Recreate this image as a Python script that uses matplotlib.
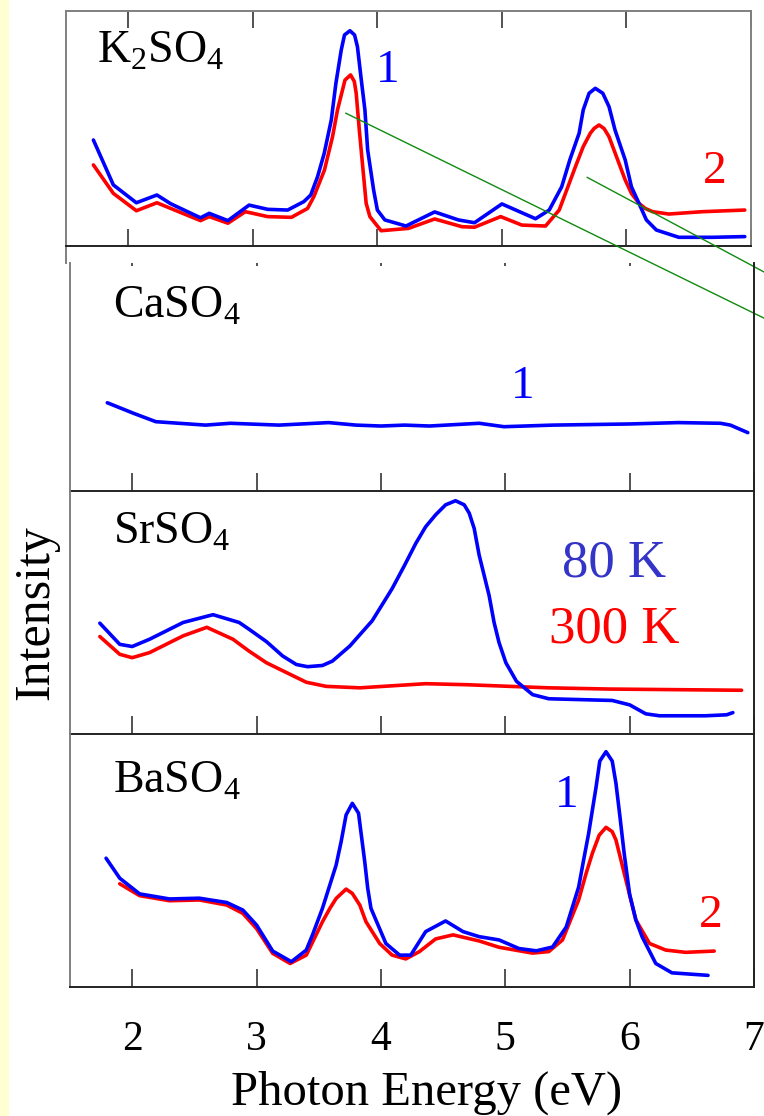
import matplotlib
matplotlib.use('Agg')
import matplotlib.pyplot as plt
from matplotlib.patches import Rectangle

plt.rcParams['font.family'] = ['Liberation Serif', 'DejaVu Serif']
plt.rcParams['mathtext.fontset'] = 'custom'
plt.rcParams['mathtext.rm'] = 'Liberation Serif'

BLUE = '#0000ff'
RED = '#ff0000'

# K2SO4: curve 1 (blue, 80 K) and curve 2 (red, 300 K)
k_e_blue = [1.72, 1.88, 2.065, 2.23, 2.34, 2.58, 2.65, 2.80, 2.97, 3.12, 3.28, 3.41,
            3.465, 3.52, 3.573, 3.63, 3.667, 3.71, 3.736, 3.78, 3.817, 3.84, 3.868, 3.90,
            3.922, 3.97, 4.0, 4.06, 4.23, 4.46, 4.65, 4.78, 5.00, 5.27, 5.38, 5.48,
            5.545, 5.62, 5.653, 5.70, 5.75, 5.81, 5.86, 5.908, 5.99, 6.04, 6.10, 6.16,
            6.24, 6.42, 6.69, 6.95]
k_i_blue = [0.451, 0.26, 0.184, 0.217, 0.18, 0.12, 0.139, 0.108, 0.174, 0.156, 0.153, 0.189,
            0.217, 0.295, 0.394, 0.536, 0.692, 0.834, 0.898, 0.916, 0.898, 0.848, 0.72, 0.579,
            0.409, 0.238, 0.153, 0.111, 0.085, 0.145, 0.111, 0.099, 0.179, 0.116, 0.153, 0.252,
            0.366, 0.48, 0.579, 0.65, 0.671, 0.65, 0.593, 0.494, 0.366, 0.252, 0.182, 0.111,
            0.068, 0.037, 0.037, 0.04]
k_e_red = [1.72, 1.88, 2.065, 2.23, 2.34, 2.58, 2.65, 2.80, 2.94, 3.12, 3.31, 3.44,
           3.49, 3.575, 3.64, 3.68, 3.74, 3.785, 3.815, 3.83, 3.855, 3.885, 3.91, 3.94,
           4.03, 4.25, 4.46, 4.68, 4.78, 4.99, 5.16, 5.35, 5.46, 5.53, 5.59, 5.653,
           5.71, 5.74, 5.78, 5.82, 5.86, 5.92, 5.99, 6.04, 6.10, 6.15, 6.21, 6.34,
           6.61, 6.95]
k_i_red = [0.345, 0.224, 0.150, 0.184, 0.16, 0.108, 0.125, 0.097, 0.146, 0.125, 0.122, 0.16,
           0.21, 0.323, 0.465, 0.579, 0.706, 0.728, 0.70, 0.65, 0.494, 0.323, 0.182, 0.125,
           0.065, 0.075, 0.115, 0.082, 0.08, 0.125, 0.089, 0.085, 0.153, 0.252, 0.337, 0.423,
           0.48, 0.50, 0.515, 0.50, 0.465, 0.38, 0.281, 0.224, 0.182, 0.16, 0.146, 0.136,
           0.146, 0.153]

# CaSO4: curve 1 only
ca_e = [1.80, 2.01, 2.19, 2.59, 2.79, 3.18, 3.58, 3.80, 4.00, 4.19, 4.39, 4.79,
        4.99, 5.38, 6.00, 6.39, 6.73, 6.81, 6.95]
ca_i = [0.387, 0.341, 0.304, 0.289, 0.297, 0.289, 0.30, 0.289, 0.285, 0.289, 0.285, 0.297,
        0.282, 0.289, 0.294, 0.30, 0.297, 0.289, 0.256]

# SrSO4: 80 K (blue) and 300 K (red)
sr_e_blue = [1.74, 1.90, 2.00, 2.14, 2.41, 2.65, 2.86, 2.94, 3.08, 3.21, 3.32, 3.41,
             3.53, 3.61, 3.75, 3.93, 4.09, 4.19, 4.28, 4.36, 4.44, 4.52, 4.60, 4.67,
             4.71, 4.75, 4.79, 4.83, 4.87, 4.91, 4.95, 5.005, 5.09, 5.22, 5.35, 5.86,
             6.00, 6.13, 6.24, 6.61, 6.78, 6.83]
sr_i_blue = [0.456, 0.369, 0.360, 0.39, 0.459, 0.491, 0.459, 0.431, 0.38, 0.321, 0.286, 0.277,
             0.282, 0.30, 0.362, 0.466, 0.598, 0.694, 0.784, 0.853, 0.902, 0.943, 0.96, 0.943,
             0.909, 0.846, 0.736, 0.653, 0.57, 0.459, 0.376, 0.293, 0.217, 0.162, 0.145, 0.138,
             0.12, 0.083, 0.075, 0.075, 0.079, 0.088]
sr_e_red = [1.74, 1.90, 2.00, 2.14, 2.41, 2.60, 2.81, 2.94, 3.08, 3.40, 3.56, 3.83,
            4.36, 4.68, 5.35, 5.83, 6.90]
sr_i_red = [0.401, 0.328, 0.314, 0.335, 0.404, 0.439, 0.39, 0.341, 0.293, 0.213, 0.196, 0.19,
            0.207, 0.203, 0.19, 0.185, 0.18]

# BaSO4: curve 1 (blue) and curve 2 (red)
ba_e_blue = [1.79, 1.90, 2.06, 2.30, 2.54, 2.76, 2.89, 3.00, 3.13, 3.28, 3.40, 3.45,
             3.53, 3.64, 3.68, 3.72, 3.77, 3.82, 3.87, 3.894, 3.92, 4.04, 4.15, 4.24,
             4.36, 4.52, 4.66, 4.79, 4.95, 5.11, 5.25, 5.38, 5.49, 5.59, 5.63, 5.67,
             5.73, 5.76, 5.81, 5.86, 5.89, 5.92, 5.956, 6.00, 6.05, 6.10, 6.21, 6.34,
             6.63]
ba_i_blue = [0.509, 0.430, 0.368, 0.348, 0.351, 0.334, 0.304, 0.245, 0.142, 0.100, 0.146, 0.206,
             0.311, 0.482, 0.574, 0.680, 0.726, 0.687, 0.495, 0.39, 0.311, 0.172, 0.126, 0.126,
             0.219, 0.261, 0.219, 0.199, 0.186, 0.152, 0.143, 0.158, 0.237, 0.395, 0.502, 0.606,
             0.790, 0.893, 0.930, 0.893, 0.805, 0.682, 0.528, 0.366, 0.265, 0.199, 0.093, 0.056,
             0.046]
ba_e_red = [1.90, 2.06, 2.30, 2.54, 2.76, 2.89, 3.00, 3.13, 3.27, 3.40, 3.53, 3.59,
            3.64, 3.72, 3.77, 3.83, 3.88, 3.99, 4.09, 4.20, 4.31, 4.44, 4.58, 4.79,
            4.95, 5.22, 5.35, 5.46, 5.59, 5.65, 5.70, 5.755, 5.81, 5.86, 5.89, 5.97,
            6.05, 6.16, 6.29, 6.45, 6.68]
ba_i_red = [0.408, 0.361, 0.341, 0.344, 0.324, 0.291, 0.231, 0.133, 0.093, 0.126, 0.258, 0.311,
            0.350, 0.387, 0.370, 0.324, 0.258, 0.172, 0.126, 0.111, 0.140, 0.190, 0.206, 0.182,
            0.157, 0.134, 0.140, 0.186, 0.344, 0.449, 0.528, 0.60, 0.631, 0.614, 0.581, 0.423,
            0.265, 0.172, 0.146, 0.137, 0.142]

# green guide lines drawn from the K2SO4 peaks (in K2SO4 axes units)
guide1_e = [3.747, 7.12]
guide1_i = [0.565, -0.311]
guide2_e = [5.685, 7.12]
guide2_i = [0.292, -0.115]

xticks = [2, 3, 4, 5, 6, 7]
W, H = 764, 1116

fig = plt.figure(figsize=(7.64, 11.16), dpi=100)
fig.add_artist(Rectangle((0, 0), 9 / W, 1, transform=fig.transFigure,
                         facecolor='#ffffd2', edgecolor='none'))


def make_ax(left, top, right, bottom):
    return fig.add_axes([left / W, 1 - bottom / H, (right - left) / W, (bottom - top) / H],
                        facecolor='none')


ax1 = make_ax(66, 11, 751, 246)
ax2 = make_ax(70, 263, 754, 491)
ax3 = make_ax(70, 491, 754, 734)
ax4 = make_ax(70, 734, 754, 987)

grey = '#808080'
for ax in (ax1, ax2, ax3, ax4):
    ax.set_xlim(1.5, 7.0)
    ax.set_ylim(0, 1)
    ax.set_yticks([])
    ax.set_xticks(xticks)
    for s in ax.spines.values():
        s.set_linewidth(1.4)
    ax.spines['left'].set_color(grey)
    ax.spines['bottom'].set_color('#222222')

ax1.spines['top'].set_color(grey)
ax1.spines['right'].set_color(grey)
ax1.spines['left'].set_bounds(-0.072, 1)
ax1.tick_params(axis='x', direction='in', top=True, length=12, width=1.3,
                color='#444444', labelbottom=False)
for ax in (ax2, ax3, ax4):
    ax.spines['top'].set_visible(False)
    ax.spines['right'].set_color('#222222')
    ax.tick_params(axis='x', direction='in', length=13, width=1.3, color='#444444',
                   labelbottom=False)
ax2.xaxis.set_tick_params(which='major', top=True)
for t in ax2.xaxis.get_major_ticks():
    t.tick2line.set_markersize(2)
ax4.tick_params(axis='x', labelbottom=True, labelsize=30, pad=24)

lw = 2.6
kw = dict(lw=lw, solid_joinstyle='round', solid_capstyle='round')
ax1.plot(k_e_red, k_i_red, color=RED, **kw)
ax1.plot(k_e_blue, k_i_blue, color=BLUE, **kw)
ax2.plot(ca_e, ca_i, color=BLUE, **kw)
ax3.plot(sr_e_red, sr_i_red, color=RED, **kw)
ax3.plot(sr_e_blue, sr_i_blue, color=BLUE, **kw)
ax4.plot(ba_e_red, ba_i_red, color=RED, **kw)
ax4.plot(ba_e_blue, ba_i_blue, color=BLUE, **kw)

ax1.plot(guide1_e, guide1_i, color='#108a10', lw=1.0, clip_on=False, zorder=5)
ax1.plot(guide2_e, guide2_i, color='#108a10', lw=1.0, clip_on=False, zorder=5)

fs = 33
ax1.text(1.75, 0.779, r'K$_\mathregular{2}$SO$_\mathregular{4}$', fontsize=fs, va='baseline')
ax2.text(1.843, 0.759, r'CaSO$_\mathregular{4}$', fontsize=fs, va='baseline')
ax3.text(1.843, 0.784, r'SrSO$_\mathregular{4}$', fontsize=fs, va='baseline')
ax4.text(1.843, 0.767, r'BaSO$_\mathregular{4}$', fontsize=fs, va='baseline')

ax1.text(4.08, 0.745, '1', color=BLUE, fontsize=34, ha='center', va='center')
ax1.text(6.71, 0.315, '2', color=RED, fontsize=34, ha='center', va='center')
ax2.text(5.14, 0.456, '1', color=BLUE, fontsize=34, ha='center', va='center')
ax3.text(5.875, 0.70, '80 K', color='#3434c8', fontsize=38, ha='center', va='center')
ax3.text(5.875, 0.43, '300 K', color=RED, fontsize=38, ha='center', va='center')
ax4.text(5.49, 0.755, '1', color=BLUE, fontsize=34, ha='center', va='center')
ax4.text(6.65, 0.28, '2', color=RED, fontsize=34, ha='center', va='center')

fig.text(427 / W, 1 - 1105 / H, 'Photon Energy (eV)', fontsize=35, ha='center', va='baseline')
fig.text(36 / W, 1 - 613 / H, 'Intensity', fontsize=36, rotation=90, ha='center', va='center')

fig.savefig('out.png', dpi=100)
